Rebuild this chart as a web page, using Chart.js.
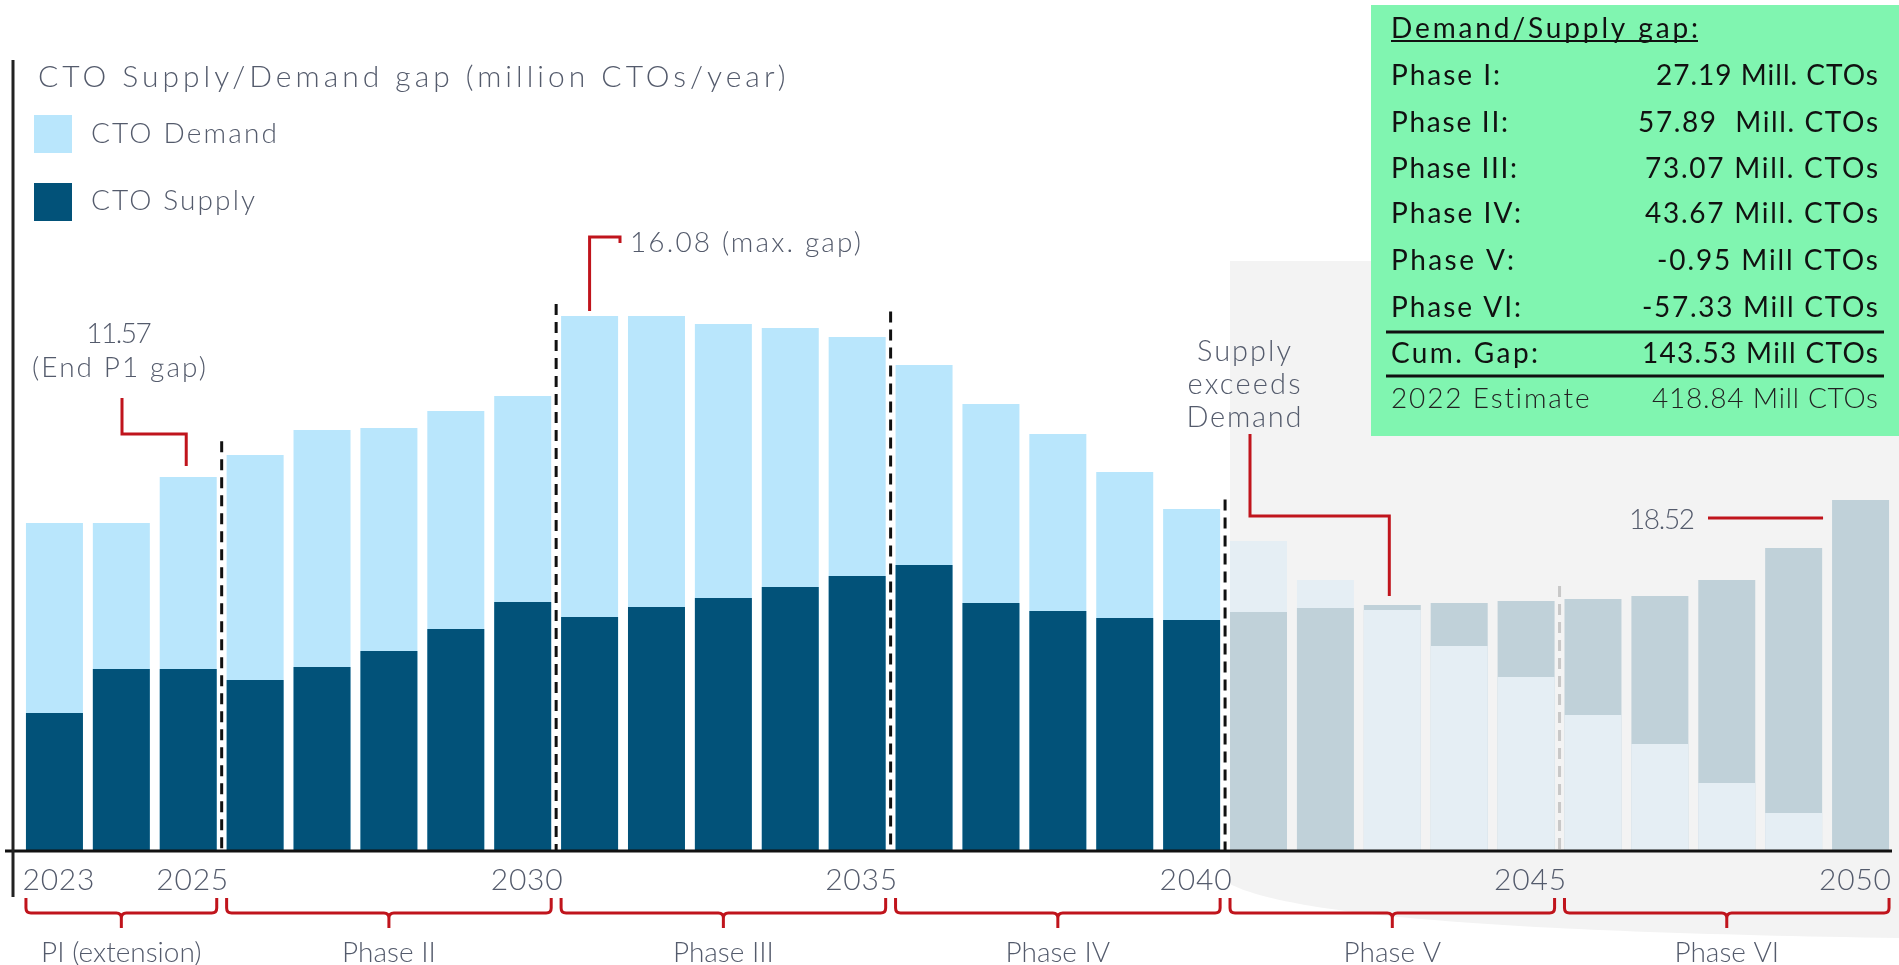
<!DOCTYPE html>
<html>
<head>
<meta charset="utf-8">
<title>CTO Supply/Demand gap</title>
<script src="https://cdn.jsdelivr.net/npm/chart.js@4.4.1/dist/chart.umd.min.js"></script>
<style>
  html, body { margin: 0; padding: 0; background: #fff; }
  #wrap { width: 1899px; height: 965px; position: relative; }
</style>
</head>
<body>
<div id="wrap"><canvas id="gapChart" width="1899" height="965"></canvas></div>
<script>
// values, million CTOs per year
var years = [2023, 2024, 2025, 2026, 2027, 2028, 2029, 2030, 2031, 2032, 2033, 2034, 2035, 2036,
             2037, 2038, 2039, 2040, 2041, 2042, 2043, 2044, 2045, 2046, 2047, 2048, 2049, 2050];
var demand = [17.45, 17.45, 19.89, 21.06, 22.39, 22.50, 23.40, 24.20, 28.46, 28.46, 28.03, 27.82, 27.34, 25.85,
              23.78, 22.18, 20.16, 18.19, 16.49, 14.41, 12.82, 10.90, 9.26, 7.23, 5.69, 3.62, 2.02, 0];
var supply = [7.34, 9.68, 9.68, 9.10, 9.79, 10.64, 11.81, 13.24, 12.45, 12.98, 13.46, 14.04, 14.63, 15.21,
              13.19, 12.77, 12.39, 12.29, 12.71, 12.93, 13.09, 13.19, 13.30, 13.40, 13.56, 14.41, 16.12, 18.67];
var tickYears = [2023, 2025, 2030, 2035, 2040, 2045, 2050];

var phaseNames = ['PI (extension)', 'Phase II', 'Phase III', 'Phase IV', 'Phase V', 'Phase VI'];
var phaseFirst = [2023, 2026, 2031, 2036, 2041, 2046];
var phaseLast = [2025, 2030, 2035, 2040, 2045, 2050];
var projectedFrom = 2041;

var gapLabels = ['Phase I:', 'Phase II:', 'Phase III:', 'Phase IV:', 'Phase V:', 'Phase VI:', 'Cum. Gap:', '2022 Estimate'];
var gapValues = ['27.19 Mill. CTOs', '57.89  Mill. CTOs', '73.07 Mill. CTOs', '43.67 Mill. CTOs',
                 '-0.95 Mill CTOs', '-57.33 Mill CTOs', '143.53 Mill CTOs', '418.84 Mill CTOs'];

// colours
var C = {
  demand: '#b9e6fc', supply: '#025279',
  demandPro: '#e5eef4', supplyPro: '#c0d1d9',
  shade: '#f3f3f3', red: '#c0141c', text: '#545b6c', box: '#80f5b0'
};
var FONT = 'Lato, "Open Sans", sans-serif';
var BAR_PCT = 0.852;

function colourFor(year, series) {
  if (year >= projectedFrom) return series === 'supply' ? C.supplyPro : C.demandPro;
  return series === 'supply' ? C.supply : C.demand;
}
// the shorter bar of each year is drawn in front of the taller one
var frontData = years.map(function (y, i) { return Math.min(demand[i], supply[i]); });
var backData = years.map(function (y, i) { return Math.max(demand[i], supply[i]); });
var frontColours = years.map(function (y, i) { return colourFor(y, supply[i] <= demand[i] ? 'supply' : 'demand'); });
var backColours = years.map(function (y, i) { return colourFor(y, supply[i] <= demand[i] ? 'demand' : 'supply'); });

function putText(ctx, text, x, y, o) {
  ctx.save();
  ctx.font = o.font;
  ctx.fillStyle = o.color || C.text;
  ctx.textBaseline = 'alphabetic';
  var align = o.align || 'left';
  ctx.textAlign = align;
  if (o.width && ('letterSpacing' in ctx)) {
    var n = Array.from(text).length;
    var ls = (o.width - ctx.measureText(text).width) / Math.max(n - 1, 1);
    ls = Math.max(-1.5, Math.min(4, ls));
    ctx.letterSpacing = ls.toFixed(2) + 'px';
    if (align === 'right') x += ls;
    else if (align === 'center') x += ls / 2;
  }
  ctx.fillText(text, x, y);
  ctx.restore();
}

function line(ctx, pts, colour, w, dash) {
  ctx.save();
  ctx.strokeStyle = colour;
  ctx.lineWidth = w;
  ctx.setLineDash(dash || []);
  ctx.beginPath();
  ctx.moveTo(pts[0][0], pts[0][1]);
  for (var i = 1; i < pts.length; i++) ctx.lineTo(pts[i][0], pts[i][1]);
  ctx.stroke();
  ctx.restore();
}

function brace(ctx, x1, x2) {
  var top = 898, y = 913, tip = 928, r = 5, xc = (x1 + x2) / 2;
  ctx.save();
  ctx.strokeStyle = C.red;
  ctx.lineWidth = 3;
  ctx.beginPath();
  ctx.moveTo(x1, top);
  ctx.lineTo(x1, y - r);
  ctx.quadraticCurveTo(x1, y, x1 + r, y);
  ctx.lineTo(xc - r, y);
  ctx.quadraticCurveTo(xc, y, xc, y + r);
  ctx.lineTo(xc, tip);
  ctx.moveTo(xc, y + r);
  ctx.quadraticCurveTo(xc, y, xc + r, y);
  ctx.lineTo(x2 - r, y);
  ctx.quadraticCurveTo(x2, y, x2, y - r);
  ctx.lineTo(x2, top);
  ctx.stroke();
  ctx.restore();
}

var decor = {
  id: 'decor',
  beforeDraw: function (chart) {
    var ctx = chart.ctx, xs = chart.scales.x;
    var half = xs.width / years.length * BAR_PCT / 2;
    var left = xs.getPixelForValue(years.indexOf(projectedFrom)) - half;
    // shaded projection area
    ctx.save();
    ctx.fillStyle = C.shade;
    ctx.beginPath();
    ctx.moveTo(left, 261);
    ctx.lineTo(1899, 261);
    ctx.lineTo(1899, 938);
    ctx.bezierCurveTo(1500, 932, 1290, 915, left, 884);
    ctx.closePath();
    ctx.fill();
    ctx.restore();
  },
  afterDatasetsDraw: function (chart) {
    var ctx = chart.ctx, xs = chart.scales.x, ys = chart.scales.y;
    var half = xs.width / years.length * BAR_PCT / 2;
    var px = function (year) { return xs.getPixelForValue(years.indexOf(year)); };
    var base = ys.getPixelForValue(0);

    // phase dividers
    var dividers = [[2026, 21.8, '#111'], [2031, 29.1, '#111'], [2036, 28.7, '#111'],
                    [2041, 18.7, '#111'], [2046, 14.1, '#c8c8c8']];
    dividers.forEach(function (d) {
      var x = (px(d[0] - 1) + px(d[0])) / 2;
      line(ctx, [[x, ys.getPixelForValue(d[1])], [x, base]], d[2], 3, [11, 7]);
    });

    // axes
    line(ctx, [[5, base], [1892, base]], '#111', 3);
    line(ctx, [[13, 60], [13, 897]], '#222', 3);

    // year labels at the category positions of the x scale
    tickYears.forEach(function (y) {
      var x = Math.min(px(y) + 4, chart.width - 44);
      putText(ctx, String(y), x, base + 39, { font: '300 30px ' + FONT, align: 'center', width: 72 });
    });

    // phase braces and names
    phaseNames.forEach(function (name, i) {
      var x1 = px(phaseFirst[i]) - half, x2 = px(phaseLast[i]) + half;
      brace(ctx, x1, x2);
      putText(ctx, name, (x1 + x2) / 2, 962, { font: '300 28px ' + FONT, align: 'center' });
    });

    // annotations
    var i25 = years.indexOf(2025), x25 = px(2025) - 2, y25 = ys.getPixelForValue(demand[i25]) - 11;
    line(ctx, [[122, 398], [122, 434], [x25, 434], [x25, y25]], C.red, 3);
    putText(ctx, '11.57', 119, 343, { font: '300 28px ' + FONT, align: 'center', width: 56 });
    putText(ctx, '(End P1 gap)', 119, 377, { font: '300 28px ' + FONT, align: 'center', width: 174 });

    var i31 = years.indexOf(2031), x31 = px(2031), y31 = ys.getPixelForValue(demand[i31]) - 5;
    line(ctx, [[x31, y31], [x31, 237], [620, 237], [620, 243]], C.red, 3);
    putText(ctx, '16.08 (max. gap)', 630, 252, { font: '300 28px ' + FONT, width: 231 });

    var i43 = years.indexOf(2043), x43 = px(2043) - 3, y43 = ys.getPixelForValue(supply[i43]) - 9;
    line(ctx, [[1250, 434], [1250, 516], [x43, 516], [x43, y43]], C.red, 3);
    putText(ctx, 'Supply', 1244, 361, { font: '300 29px ' + FONT, align: 'center', width: 94 });
    putText(ctx, 'exceeds', 1244, 394, { font: '300 29px ' + FONT, align: 'center', width: 113 });
    putText(ctx, 'Demand', 1244, 427, { font: '300 29px ' + FONT, align: 'center', width: 115 });

    var i50 = years.indexOf(2050), y50 = ys.getPixelForValue(supply[i50]) + 18;
    line(ctx, [[1708, y50], [px(2050) - half - 9, y50]], C.red, 3);
    putText(ctx, '18.52', 1695, y50 + 11, { font: '300 28px ' + FONT, align: 'right', width: 66 });
  },
  afterDraw: function (chart) {
    var ctx = chart.ctx;
    // title
    putText(ctx, 'CTO Supply/Demand gap (million CTOs/year)', 38, 87, { font: '300 30px ' + FONT, width: 757 });
    // legend
    ctx.fillStyle = C.demand;
    ctx.fillRect(34, 115, 38, 38);
    ctx.fillStyle = C.supply;
    ctx.fillRect(34, 183, 38, 38);
    putText(ctx, 'CTO Demand', 91, 143, { font: '300 28px ' + FONT, width: 186 });
    putText(ctx, 'CTO Supply', 91, 210, { font: '300 28px ' + FONT, width: 164 });

    // summary box
    ctx.fillStyle = C.box;
    ctx.fillRect(1371, 5, 528, 431);
    putText(ctx, 'Demand/Supply gap:', 1391, 38, { font: '400 28px ' + FONT, color: '#111', width: 307 });
    line(ctx, [[1391, 41], [1698, 41]], '#111', 2);
    var rowBase = [85, 131.5, 178, 223, 270, 316.5, 363, 408];
    var labelW = [109, 117, 126, 130, 123, 130, 147, 199];
    var valueW = [222, 240, 233, 233, 221, 236, 236, 226];
    gapLabels.forEach(function (lab, i) {
      var light = i === gapLabels.length - 1;
      var f = (light ? '300' : '400') + ' 28px ' + FONT;
      var col = light ? '#222' : '#111';
      putText(ctx, lab, 1391, rowBase[i], { font: f, color: col, width: labelW[i] });
      putText(ctx, gapValues[i], 1878, rowBase[i], { font: f, color: col, align: 'right', width: valueW[i] });
    });
    line(ctx, [[1386, 332], [1884, 332]], '#111', 3);
    line(ctx, [[1386, 376], [1884, 376]], '#111', 3);
  }
};

new Chart(document.getElementById('gapChart'), {
  type: 'bar',
  data: {
    labels: years,
    datasets: [{
      label: 'front',
      data: frontData,
      backgroundColor: frontColours,
      grouped: false,
      order: 0,
      barPercentage: BAR_PCT,
      categoryPercentage: 1
    }, {
      label: 'back',
      data: backData,
      backgroundColor: backColours,
      grouped: false,
      order: 1,
      barPercentage: BAR_PCT,
      categoryPercentage: 1
    }]
  },
  options: {
    responsive: false,
    animation: false,
    devicePixelRatio: 1,
    layout: { padding: { left: 21, right: 5, top: 99, bottom: 114 } },
    scales: {
      x: { display: false, offset: true },
      y: { display: false, min: 0, max: 40 }
    },
    plugins: {
      legend: { display: false },
      tooltip: { enabled: false }
    }
  },
  plugins: [decor]
});
</script>
</body>
</html>
